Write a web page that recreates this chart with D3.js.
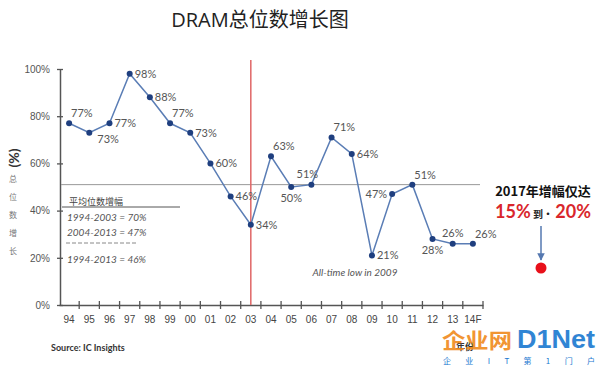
<!DOCTYPE html>
<html>
<head>
<meta charset="utf-8">
<script src="https://cdn.jsdelivr.net/npm/d3@7"></script>
<style>
  body { margin: 0; background: #fff; }
  svg { display: block; font-family: Lato, "Noto Sans CJK SC", sans-serif; }
</style>
</head>
<body>
<div id="chart"></div>
<script>
// DRAM bit growth, yearly
var years = ["94","95","96","97","98","99","00","01","02","03","04","05","06","07","08","09","10","11","12","13","14F"];
var growth = [77, 73, 77, 98, 88, 77, 73, 60, 46, 34, 63, 50, 51, 71, 64, 21, 47, 51, 28, 26, 26];
var yTicks = [0, 20, 40, 60, 80, 100];
var avgLine = 51;
var markYear = "03";
var legendRows = ["1994-2003  = 70%", "2004-2013 = 47%", "1994-2013 = 46%"];

// where each value label sits relative to its point
var labelPos = ["ar","br","r","r","r","ar","r","r","r","r","ar","b","al","ar","r","r","l","ar","b","a","ar"];

var width = 600, height = 366;

var svg = d3.select("#chart").append("svg")
    .attr("width", width)
    .attr("height", height);

var x = d3.scaleBand().domain(years).range([59, 483]);
var y = d3.scaleLinear().domain([0, 100]).range([305, 69]);
var cx = function(d) { return x(d) + x.bandwidth() / 2; };

// title
svg.append("text")
    .attr("x", 260).attr("y", 27)
    .attr("text-anchor", "middle")
    .style("font-family", "'Open Sans', 'Noto Sans CJK SC', sans-serif")
    .style("font-size", "20px")
    .style("fill", "#222")
    .text("DRAM总位数增长图");

// y axis
var yAxis = svg.append("g")
    .attr("transform", "translate(60,0)")
    .call(d3.axisLeft(y).tickValues(yTicks).tickSize(0).tickPadding(10)
        .tickFormat(function(d) { return d + "%"; }));
yAxis.select(".domain").attr("stroke", "#555").attr("stroke-width", 1.5);
yAxis.selectAll("text").style("font-size", "10px").style("fill", "#555");
yAxis.selectAll(".tick").append("line")
    .attr("x1", -3).attr("x2", 3).attr("stroke", "#555").attr("stroke-width", 1.3);

// x axis
var xAxis = svg.append("g")
    .attr("transform", "translate(0,305)")
    .call(d3.axisBottom(x).tickSize(0).tickPadding(11));
xAxis.select(".domain").attr("stroke", "#555").attr("stroke-width", 1.5);
xAxis.selectAll("text").style("font-size", "10px").style("fill", "#444");
xAxis.selectAll(".bnd")
    .data(years)
    .enter().append("line")
    .attr("x1", function(d) { return x(d) + x.bandwidth(); })
    .attr("x2", function(d) { return x(d) + x.bandwidth(); })
    .attr("y1", -4).attr("y2", 4)
    .attr("stroke", "#555").attr("stroke-width", 1.3);

// y axis title
svg.append("text")
    .attr("transform", "translate(19,158) rotate(-90)")
    .attr("text-anchor", "middle")
    .style("font-size", "14px")
    .style("font-weight", "bold")
    .style("fill", "#333")
    .text("(%)");
["总","位","数","增","长"].forEach(function(c, i) {
    svg.append("text")
        .attr("x", 13).attr("y", 182 + i * 18)
        .attr("text-anchor", "middle")
        .style("font-family", "'Noto Sans CJK SC', sans-serif")
        .style("font-size", "8px")
        .style("fill", "#777")
        .text(c);
});

// average line
svg.append("line")
    .attr("x1", 61).attr("x2", 480)
    .attr("y1", y(avgLine)).attr("y2", y(avgLine))
    .attr("stroke", "#999").attr("stroke-width", 1);

// red marker line
svg.append("line")
    .attr("x1", cx(markYear)).attr("x2", cx(markYear))
    .attr("y1", 60).attr("y2", 305)
    .attr("stroke", "#e06666").attr("stroke-width", 1.5);

// series
var pts = years.map(function(d, i) { return [cx(d), y(growth[i])]; });
svg.append("path")
    .attr("d", d3.line()(pts))
    .attr("fill", "none")
    .attr("stroke", "#5a7db5")
    .attr("stroke-width", 1.5);

svg.selectAll(".dot")
    .data(pts)
    .enter().append("circle")
    .attr("cx", function(d) { return d[0]; })
    .attr("cy", function(d) { return d[1]; })
    .attr("r", 3)
    .attr("fill", "#1f3f7f");

var off = {
    ar: [2, -6, "start"], a: [0, -7, "middle"], al: [-4, -7, "middle"],
    r: [5, 4, "start"], br: [8, 10, "start"], b: [0, 15, "middle"], l: [-5, 4, "end"]
};
svg.selectAll(".lbl")
    .data(growth)
    .enter().append("text")
    .attr("x", function(d, i) { return pts[i][0] + off[labelPos[i]][0]; })
    .attr("y", function(d, i) { return pts[i][1] + off[labelPos[i]][1]; })
    .attr("text-anchor", function(d, i) { return off[labelPos[i]][2]; })
    .style("font-size", "11px")
    .style("fill", "#555")
    .text(function(d) { return d + "%"; });

// legend of averages
svg.append("text")
    .attr("x", 69).attr("y", 205)
    .style("font-family", "'Noto Sans CJK SC', sans-serif")
    .style("font-size", "9px").style("fill", "#444")
    .text("平均位数增幅");
svg.append("line")
    .attr("x1", 62).attr("x2", 180).attr("y1", 207).attr("y2", 207)
    .attr("stroke", "#555").attr("stroke-width", 1);
svg.append("line")
    .attr("x1", 66).attr("x2", 137).attr("y1", 243).attr("y2", 243)
    .attr("stroke", "#888").attr("stroke-width", 1).attr("stroke-dasharray", "4,2");
legendRows.forEach(function(t, i) {
    svg.append("text")
        .attr("x", 67).attr("y", [221, 236, 263][i])
        .style("font-size", "10px").style("font-style", "italic").style("fill", "#555")
        .text(t);
});

svg.append("text")
    .attr("x", 355).attr("y", 276)
    .attr("text-anchor", "middle")
    .style("font-size", "10px").style("font-style", "italic").style("fill", "#555")
    .text("All-time low in 2009");

// 2017 note
svg.append("text")
    .attr("x", 543).attr("y", 196)
    .attr("text-anchor", "middle")
    .style("font-family", "'Noto Sans CJK SC', sans-serif")
    .style("font-size", "13px").style("font-weight", "bold").style("fill", "#111")
    .text("2017年增幅仅达");
var note = svg.append("text")
    .attr("x", 543).attr("y", 218)
    .attr("text-anchor", "middle")
    .style("font-weight", "bold");
note.append("tspan").style("font-size", "18px").style("fill", "#d9262c").text("15%");
note.append("tspan").style("font-size", "10px").style("fill", "#222")
    .style("font-family", "'Noto Sans CJK SC', sans-serif").text(" 到· ");
note.append("tspan").style("font-size", "18px").style("fill", "#d9262c").text("20%");

svg.append("defs").append("marker")
    .attr("id", "arr").attr("viewBox", "0 0 10 10")
    .attr("refX", 9).attr("refY", 5)
    .attr("markerWidth", 5).attr("markerHeight", 5)
    .attr("orient", "auto")
    .append("path").attr("d", "M0,0L10,5L0,10z").attr("fill", "#5578b0");
svg.append("line")
    .attr("x1", 541).attr("x2", 541).attr("y1", 226).attr("y2", 260)
    .attr("stroke", "#5578b0").attr("stroke-width", 1.5)
    .attr("marker-end", "url(#arr)");
svg.append("circle")
    .attr("cx", 541).attr("cy", 268).attr("r", 5.5)
    .attr("fill", "#e8101a");

// source + axis name
svg.append("text")
    .attr("x", 51).attr("y", 351)
    .style("font-size", "9px").style("font-weight", "bold").style("fill", "#333")
    .text("Source: IC Insights");
svg.append("text")
    .attr("x", 465).attr("y", 350)
    .attr("text-anchor", "middle")
    .style("font-family", "'Noto Sans CJK SC', sans-serif")
    .style("font-size", "9px").style("font-weight", "bold").style("fill", "#333")
    .text("年份");

// watermark
var wm = svg.append("g").style("font-weight", "bold");
wm.append("text")
    .attr("x", 442).attr("y", 348)
    .attr("textLength", 70).attr("lengthAdjust", "spacingAndGlyphs")
    .style("font-family", "'Noto Sans CJK SC', sans-serif")
    .style("font-size", "21px").style("fill", "#f08a1c").style("opacity", 0.9)
    .text("企业网");
wm.append("text")
    .attr("x", 517).attr("y", 348)
    .attr("textLength", 78).attr("lengthAdjust", "spacingAndGlyphs")
    .style("font-family", "'Liberation Sans', sans-serif")
    .style("font-size", "25px").style("fill", "#1a78d0").style("opacity", 0.9)
    .text("D1Net");
wm.append("text")
    .attr("x", 443).attr("y", 364)
    .style("font-family", "'Noto Sans CJK SC', sans-serif")
    .style("font-size", "8px").style("font-weight", "normal").style("fill", "#1a78d0")
    .attr("textLength", 152)
    .text("企 业 I T 第 1 门 户");
</script>
</body>
</html>
